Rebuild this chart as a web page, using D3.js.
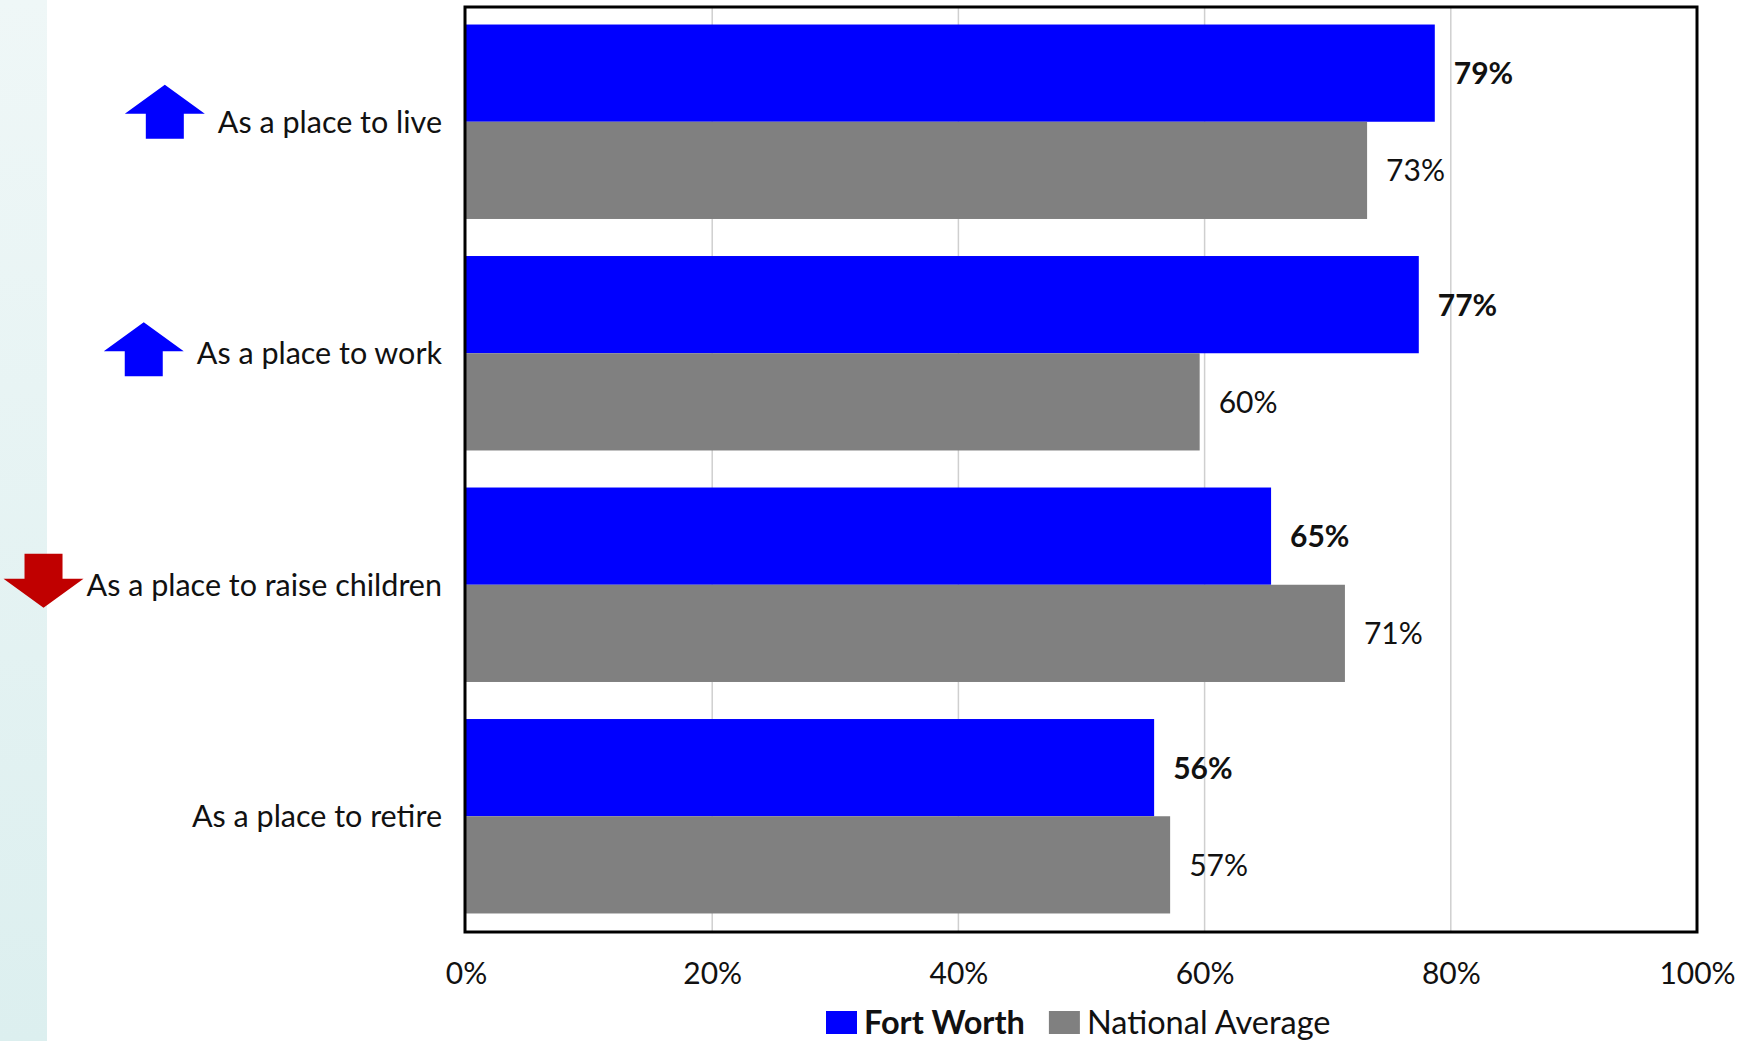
<!DOCTYPE html>
<meta charset="utf-8">
<script src="https://cdn.jsdelivr.net/npm/d3@7"></script>
<style>
body { margin: 0; background: #fff; }
svg text { font-family: Lato, "Open Sans", sans-serif; fill: #111; }
.cat { font-size: 30.5px; }
.val { font-size: 30px; }
.tick text { font-size: 30px; }
.legend text { font-size: 32.5px; }
</style>
<body>
<div id="chart"></div>
<script>
// ---------------- data ----------------
var categories = ["As a place to live", "As a place to work", "As a place to raise children", "As a place to retire"];
var series = ["Fort Worth", "National Average"];
var fortWorth = [0.787, 0.774, 0.654, 0.559];
var nationalAvg = [0.732, 0.596, 0.714, 0.572];
var trend = ["up", "up", "down", null];
var xTicks = [0, 0.2, 0.4, 0.6, 0.8, 1.0];

var colors = { "Fort Worth": "#0000ff", "National Average": "#808080" };

var W = 1752, H = 1041;
var plot = { left: 466, right: 1697, top: 6, bottom: 932 };

var svg = d3.select("#chart").append("svg")
    .attr("width", W)
    .attr("height", H);

// left teal strip
var grad = svg.append("defs").append("linearGradient")
    .attr("id", "strip").attr("x1", 0).attr("y1", 0).attr("x2", 0).attr("y2", 1);
grad.append("stop").attr("offset", "0%").attr("stop-color", "#eff7f7");
grad.append("stop").attr("offset", "100%").attr("stop-color", "#dcefef");
svg.append("rect").attr("x", 0).attr("y", 0).attr("width", 47).attr("height", H).attr("fill", "url(#strip)");

// ---------------- scales ----------------
var x = d3.scaleLinear().domain([0, 1]).range([plot.left, plot.right]);
var y = d3.scaleBand().domain(categories).range([plot.top, plot.bottom])
    .paddingInner(0.16).paddingOuter(0.08);
var y1 = d3.scaleBand().domain(series).range([0, y.bandwidth()]);

var rows = categories.map(function(c, i) {
    return { cat: c, trend: trend[i], values: [
        { key: "Fort Worth", v: fortWorth[i] },
        { key: "National Average", v: nationalAvg[i] }
    ]};
});

// gridlines
svg.append("g").selectAll("line")
    .data(xTicks.slice(1, -1))
    .enter().append("line")
    .attr("x1", function(d) { return x(d); })
    .attr("x2", function(d) { return x(d); })
    .attr("y1", plot.top).attr("y2", plot.bottom)
    .attr("stroke", "#cfcfcf")
    .attr("stroke-width", 1.5);

// bars
var groups = svg.append("g").selectAll("g")
    .data(rows)
    .enter().append("g")
    .attr("transform", function(d) { return "translate(0," + y(d.cat) + ")"; });

groups.selectAll("rect")
    .data(function(d) { return d.values; })
    .enter().append("rect")
    .attr("x", x(0))
    .attr("y", function(d) { return y1(d.key); })
    .attr("width", function(d) { return x(d.v) - x(0); })
    .attr("height", y1.bandwidth())
    .attr("fill", function(d) { return colors[d.key]; });

groups.selectAll("text.val")
    .data(function(d) { return d.values; })
    .enter().append("text")
    .attr("class", "val")
    .attr("x", function(d) { return x(d.v) + 19; })
    .attr("y", function(d) { return y1(d.key) + y1.bandwidth() / 2 + 11; })
    .style("font-weight", function(d) { return d.key == "Fort Worth" ? "bold" : "normal"; })
    .text(function(d) { return d3.format(".0%")(d.v); });

// frame
svg.append("rect")
    .attr("x", plot.left - 1).attr("y", plot.top + 1)
    .attr("width", plot.right - plot.left + 1).attr("height", plot.bottom - plot.top - 1)
    .attr("fill", "none").attr("stroke", "#000").attr("stroke-width", 3);

// category labels + arrows
var labels = svg.append("g").selectAll("g")
    .data(rows)
    .enter().append("g");

labels.append("text")
    .attr("class", "cat")
    .attr("x", 442)
    .attr("y", function(d) { return y(d.cat) + y.bandwidth() / 2 + 11; })
    .attr("text-anchor", "end")
    .text(function(d) { return d.cat; });

var aw = 80, ah = 54, headH = 29, shaftW = 38;
var upArrow = "M0," + (-ah / 2) + " L" + (aw / 2) + "," + (-ah / 2 + headH) + " L" + (shaftW / 2) + "," + (-ah / 2 + headH) +
    " L" + (shaftW / 2) + "," + (ah / 2) + " L" + (-shaftW / 2) + "," + (ah / 2) + " L" + (-shaftW / 2) + "," + (-ah / 2 + headH) +
    " L" + (-aw / 2) + "," + (-ah / 2 + headH) + " Z";

labels.each(function(d, i) {
    if (!d.trend) return;
    var g = d3.select(this);
    var len = g.select("text").node().getComputedTextLength();
    var gap = d.trend == "up" ? 13 : 3;
    var cx = 442 - len - gap - aw / 2;
    var cy = y(d.cat) + y.bandwidth() / 2 - (i == 0 ? 10 : 4);
    g.append("path")
        .attr("d", upArrow)
        .attr("fill", d.trend == "up" ? "#0000ff" : "#c00000")
        .attr("transform", "translate(" + cx + "," + cy + ")" + (d.trend == "down" ? " rotate(180)" : ""));
});

// x axis
var xaxis = d3.axisBottom(x)
    .tickValues(xTicks)
    .tickSize(0)
    .tickFormat(d3.format(".0%"));

var ax = svg.append("g")
    .attr("transform", "translate(0," + plot.bottom + ")")
    .call(xaxis);
ax.select(".domain").remove();
ax.selectAll("text")
    .attr("y", 52).attr("dy", 0)
    .attr("font-family", null).attr("font-size", null)
    .style("fill", "#111");

// legend
var legend = svg.append("g").attr("class", "legend");
var lx = 826;
series.forEach(function(s, i) {
    var item = legend.append("g").attr("transform", "translate(" + lx + ",1011)");
    item.append("rect").attr("width", 31).attr("height", 23).attr("fill", colors[s]);
    var t = item.append("text")
        .attr("x", 38).attr("y", 23)
        .style("font-weight", i == 0 ? "bold" : "normal")
        .text(s);
    lx += 38 + t.node().getComputedTextLength() + 24;
});
</script>
</body>
